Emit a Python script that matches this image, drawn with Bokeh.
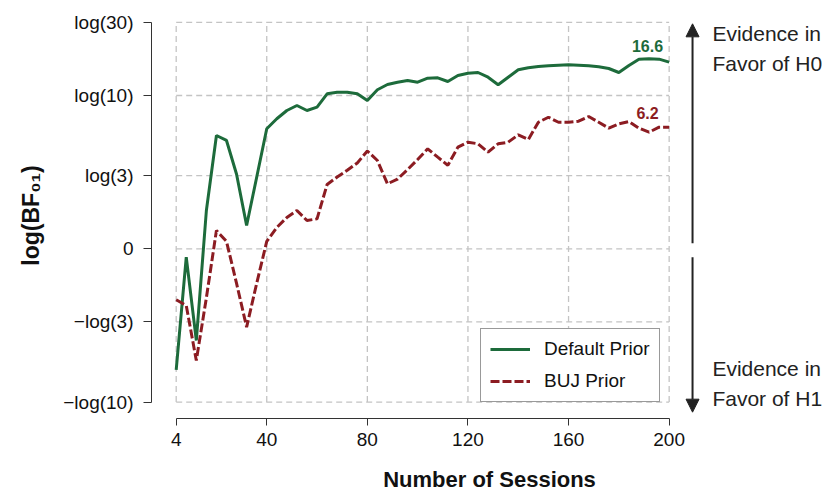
import numpy as np
from bokeh.plotting import figure
from bokeh.models import Range1d, FixedTicker, Arrow, NormalHead, ColumnDataSource
from bokeh.core.properties import value
from bokeh.embed import file_html
from bokeh.resources import INLINE

# ---------------- data ----------------
sessions = [4, 8, 12, 16, 20, 24, 28, 32, 36, 40,
            44, 48, 52, 56, 60, 64, 68, 72, 76, 80,
            84, 88, 92, 96, 100, 104, 108, 112, 116, 120,
            124, 128, 132, 136, 140, 144, 148, 152, 156, 160,
            164, 168, 172, 176, 180, 184, 188, 192, 196, 200]

default_prior = [-1.817, -0.126, -1.377, 0.575, 1.702, 1.627, 1.120, 0.350, 1.075, 1.802,
                 1.953, 2.077, 2.152, 2.077, 2.127, 2.328, 2.352, 2.352, 2.328, 2.227,
                 2.388, 2.468, 2.502, 2.528, 2.502, 2.562, 2.568, 2.513, 2.603, 2.637,
                 2.648, 2.577, 2.463, 2.577, 2.688, 2.718, 2.738, 2.749, 2.758, 2.764,
                 2.758, 2.749, 2.734, 2.708, 2.648, 2.753, 2.848, 2.854, 2.848, 2.803]

buj_prior = [-0.766, -0.851, -1.677, -0.736, 0.275, 0.110, -0.520, -1.176, -0.520, 0.110,
             0.320, 0.470, 0.575, 0.425, 0.450, 0.965, 1.078, 1.180, 1.289, 1.469,
             1.326, 0.976, 1.047, 1.191, 1.341, 1.502, 1.376, 1.254, 1.526, 1.601,
             1.577, 1.451, 1.577, 1.601, 1.712, 1.641, 1.901, 1.976, 1.901, 1.901,
             1.916, 1.986, 1.901, 1.811, 1.877, 1.912, 1.811, 1.751, 1.826, 1.826]

series_names = ["Default Prior", "BUJ Prior"]
end_labels = ["16.6", "6.2"]

x_ticks = [4, 40, 80, 120, 160, 200]
y_tick_ratios = [1 / 10, 1 / 3, 1, 3, 10, 30]
y_ticks = [float(np.log(r)) for r in y_tick_ratios]
y_tick_labels = ["\u2212log(10)", "\u2212log(3)", "0", "log(3)", "log(10)", "log(30)"]

evidence_texts = ["Evidence in", "Favor of H0", "Evidence in", "Favor of H1"]

# ---------------- style ----------------
FONT = "Liberation Sans"
GREEN = "#1d6b3b"
RED = "#8c1c22"
GRID = "#c4c4c4"
DARK = "#222222"

p = figure(width=827, height=496, output_backend="svg", toolbar_location=None,
           x_range=Range1d(-5.82, 262.96), y_range=Range1d(-2.549, 3.549),
           min_border_left=151, min_border_right=0, min_border_top=12,
           min_border_bottom=78)
p.outline_line_color = None
p.background_fill_color = "white"
p.border_fill_color = "white"
p.grid.visible = False

# manual dashed grid limited to the tick box
nx, ny = len(x_ticks), len(y_ticks)
p.segment(x0=x_ticks, y0=[y_ticks[0]] * nx, x1=x_ticks, y1=[y_ticks[-1]] * nx,
          line_color=GRID, line_width=1.3, line_dash="6 4")
p.segment(x0=[x_ticks[0]] * ny, y0=y_ticks, x1=[x_ticks[-1]] * ny, y1=y_ticks,
          line_color=GRID, line_width=1.3, line_dash="6 4")

src = ColumnDataSource(dict(x=sessions, d=default_prior, b=buj_prior))
p.line("x", "d", source=src, line_color=GREEN, line_width=3,
       legend_label=series_names[0])
p.line("x", "b", source=src, line_color=RED, line_width=3, line_dash="9 3",
       legend_label=series_names[1])

# end value labels
p.text(x=[191.4, 191.4], y=[3.053, 2.047], text=end_labels,
       text_color=[GREEN, RED], text_font=value(FONT), text_font_style="bold",
       text_font_size="16px", text_align="center", text_baseline="middle")

# evidence annotations
p.text(x=[217.2] * 4, y=[3.234, 2.785, -1.798, -2.248], text=evidence_texts,
       text_color=DARK, text_font=value(FONT), text_font_size="21px",
       text_align="left", text_baseline="middle")
p.add_layout(Arrow(end=NormalHead(size=13, fill_color=DARK, line_color=DARK),
                   x_start=209.3, y_start=0.084, x_end=209.3, y_end=3.379,
                   line_width=2, line_color=DARK))
p.add_layout(Arrow(end=NormalHead(size=13, fill_color=DARK, line_color=DARK),
                   x_start=209.3, y_start=-0.126, x_end=209.3, y_end=-2.454,
                   line_width=2, line_color=DARK))

# axes
for ax in (p.xaxis[0], p.yaxis[0]):
    ax.minor_tick_line_color = None
    ax.major_tick_in = 0
    ax.axis_line_color = "#333333"
    ax.major_tick_line_color = "#333333"
    ax.major_label_text_font = FONT
    ax.major_label_text_font_size = "19px"
    ax.major_label_text_color = "#111111"
    ax.axis_label_text_font = FONT
    ax.axis_label_text_font_style = "bold"
    ax.axis_label_text_font_size = "22px"
    ax.axis_label_text_color = "#111111"

xa = p.xaxis[0]
xa.bounds = (x_ticks[0], x_ticks[-1])
xa.ticker = FixedTicker(ticks=x_ticks)
xa.major_tick_out = 7
xa.major_label_standoff = 7
xa.axis_label = "Number of Sessions"
xa.axis_label_standoff = 18

ya = p.yaxis[0]
ya.bounds = (y_ticks[0], y_ticks[-1])
ya.ticker = FixedTicker(ticks=y_ticks)
ya.major_label_overrides = {t: l for t, l in zip(y_ticks, y_tick_labels)}
ya.major_tick_out = 8
ya.major_label_standoff = 10
ya.axis_label = "log(BF\u2080\u2081)"
ya.axis_label_text_font_size = "23px"
ya.axis_label_standoff = 16

# legend
leg = p.legend[0]
leg.location = (329, 16)
leg.margin = 0
leg.padding = 9
leg.spacing = 10
leg.glyph_width = 40
leg.glyph_height = 20
leg.label_standoff = 14
leg.label_text_font = FONT
leg.label_text_font_size = "19px"
leg.label_text_color = "#111111"
leg.border_line_color = "#333333"
leg.border_line_width = 1
leg.background_fill_color = "white"
leg.background_fill_alpha = 1.0

open("out.html", "w").write(file_html(p, INLINE))
